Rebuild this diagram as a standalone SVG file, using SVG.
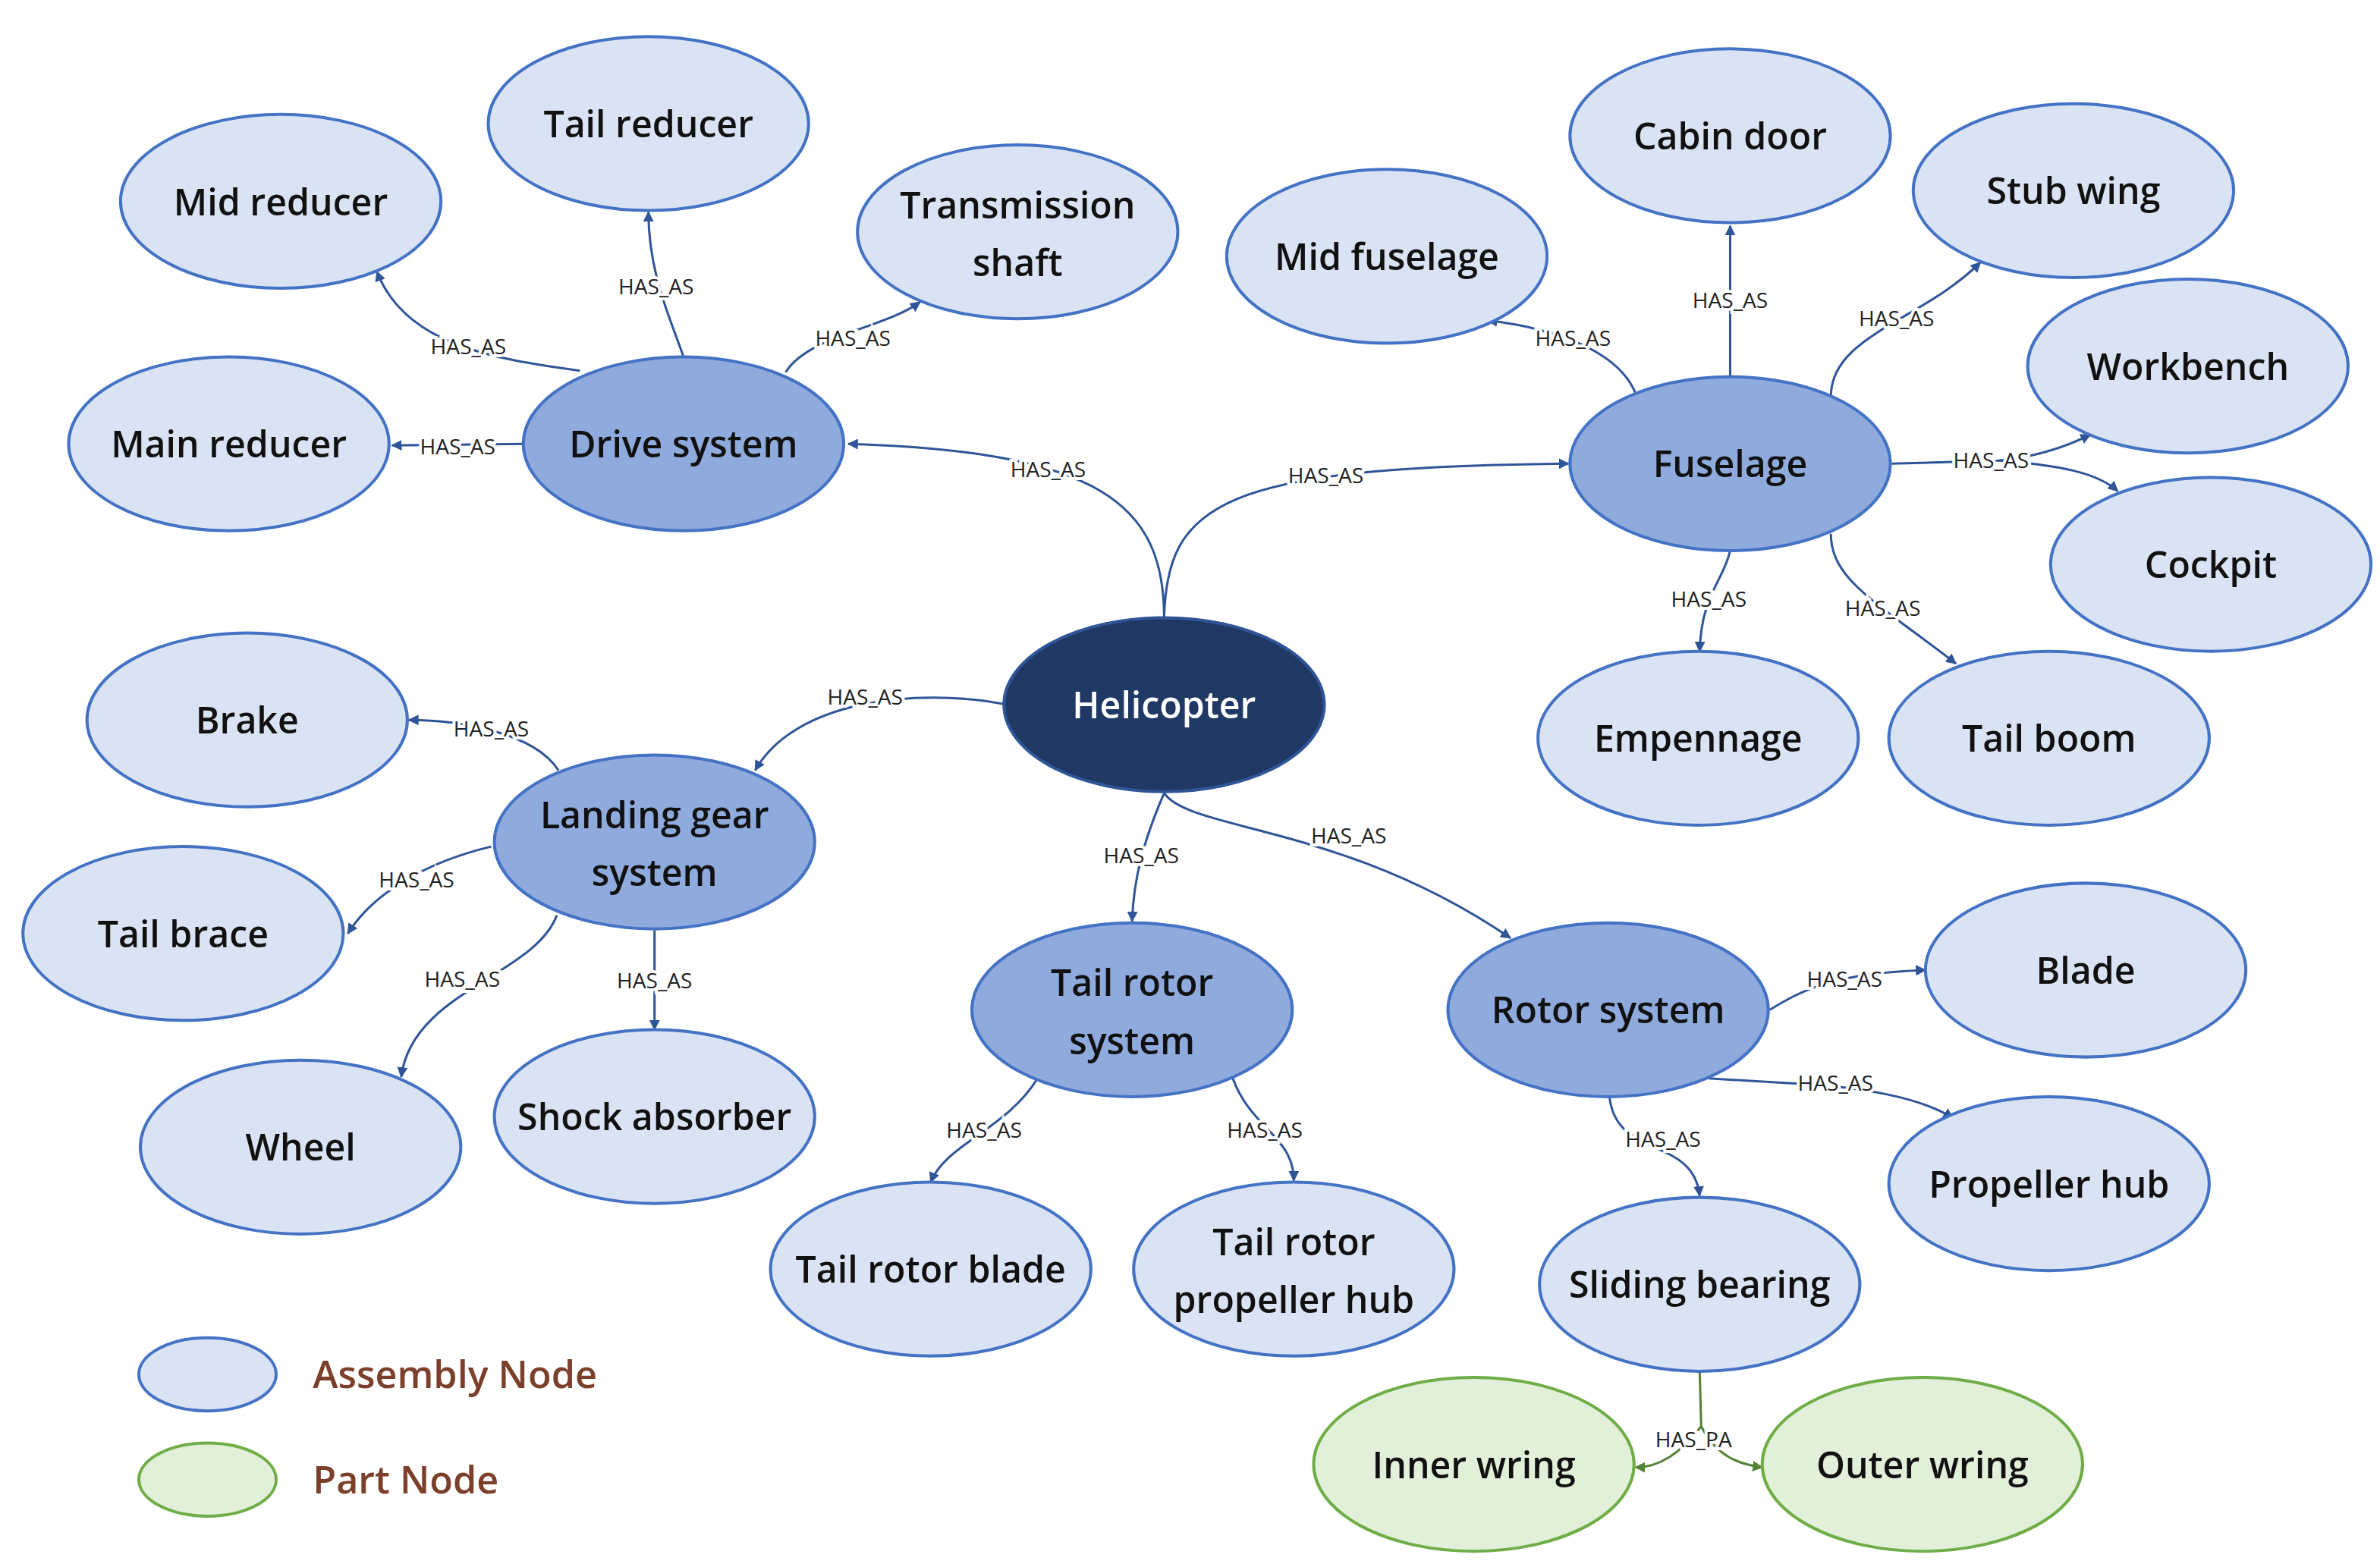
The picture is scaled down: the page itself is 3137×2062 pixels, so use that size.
<svg xmlns="http://www.w3.org/2000/svg" width="3137" height="2062" viewBox="0 0 3137 2062">
<style>
.n ellipse{fill:#DAE3F3;stroke:#4472C4;stroke-width:2}
.m ellipse{fill:#8FAADC;stroke:#4472C4;stroke-width:2}
.h ellipse{fill:#1F3864;stroke:#2F5597;stroke-width:2}
.p ellipse{fill:#E2F0D9;stroke:#70AD47;stroke-width:2}
text{font-family:"Open Sans","Noto Sans",sans-serif;text-anchor:middle}
.t{font-size:24px;font-weight:600;fill:#111}
.h text{fill:#fff}
.e path{fill:none;stroke:#2F5597;stroke-width:1.5;marker-end:url(#a)}
.e path.g{stroke:#548235;marker-end:url(#ag)}
.l{font-size:14px;fill:#222;stroke:#fff;stroke-width:4;paint-order:stroke}
.lg{font-size:25px;font-weight:600;fill:#7B3F2A;text-anchor:start}
</style>
<defs>
<marker id="a" viewBox="0 0 10 10" refX="9" refY="5" markerWidth="7" markerHeight="7" orient="auto" markerUnits="userSpaceOnUse"><path d="M0,0L10,5L0,10z" fill="#2F5597"/></marker>
<marker id="ag" viewBox="0 0 10 10" refX="9" refY="5" markerWidth="7" markerHeight="7" orient="auto" markerUnits="userSpaceOnUse"><path d="M0,0L10,5L0,10z" fill="#548235"/></marker>
</defs>
<rect width="3137" height="2062" fill="#fff"/>
<g transform="scale(2.011)">
<g id="connectors" class="e">
<path d="M763,405 C763,330 720,296 556,291"/>
<path d="M763,405 C765,330 800,306 1028,304"/>
<path d="M660,462 C600,450 520,460 495,505"/>
<path d="M763,520 C750,550 743,575 742,604"/>
<path d="M763,520 C780,545 880,540 990,615"/>
<path d="M343,291 L257,292"/>
<path d="M380,243 C320,235 265,225 247,178"/>
<path d="M448,234 C440,210 425,180 425,139"/>
<path d="M515,244 C530,220 580,215 603,198"/>
<path d="M1072,258 C1065,240 1040,218 975,210"/>
<path d="M1134,247 L1134,148"/>
<path d="M1200,260 C1200,220 1260,210 1298,172"/>
<path d="M1240,304 L1310,302 C1330,300 1350,295 1370,285"/>
<path d="M1310,302 C1350,305 1375,310 1388,322"/>
<path d="M1134,361 C1130,380 1115,390 1114,427"/>
<path d="M1200,350 C1200,380 1230,395 1282,435"/>
<path d="M366,505 C350,480 300,472 268,472"/>
<path d="M322,555 C280,565 245,585 228,612"/>
<path d="M365,600 C350,640 270,650 263,706"/>
<path d="M429,610 L429,675"/>
<path d="M680,707 C660,740 620,750 610,775"/>
<path d="M808,707 C820,740 848,745 848,774"/>
<path d="M1160,662 C1180,650 1200,638 1262,636"/>
<path d="M1120,707 L1170,710 C1220,712 1260,720 1280,733"/>
<path d="M1055,720 C1060,760 1110,745 1114,784"/>
<path class="g" d="M1114,898 L1115,935 C1100,955 1085,962 1072,962"/>
<path class="g" d="M1115,935 C1125,955 1140,960 1155,962"/>
</g>
<g id="labels">
<text class="l" x="687" y="313">HAS_AS</text>
<text class="l" x="869" y="317">HAS_AS</text>
<text class="l" x="567" y="462">HAS_AS</text>
<text class="l" x="748" y="566">HAS_AS</text>
<text class="l" x="884" y="553">HAS_AS</text>
<text class="l" x="300" y="298">HAS_AS</text>
<text class="l" x="307" y="232">HAS_AS</text>
<text class="l" x="430" y="193">HAS_AS</text>
<text class="l" x="559" y="227">HAS_AS</text>
<text class="l" x="1031" y="227">HAS_AS</text>
<text class="l" x="1134" y="202">HAS_AS</text>
<text class="l" x="1243" y="214">HAS_AS</text>
<text class="l" x="1305" y="307">HAS_AS</text>
<text class="l" x="1120" y="398">HAS_AS</text>
<text class="l" x="1234" y="404">HAS_AS</text>
<text class="l" x="322" y="483">HAS_AS</text>
<text class="l" x="273" y="582">HAS_AS</text>
<text class="l" x="303" y="647">HAS_AS</text>
<text class="l" x="429" y="648">HAS_AS</text>
<text class="l" x="645" y="746">HAS_AS</text>
<text class="l" x="829" y="746">HAS_AS</text>
<text class="l" x="1209" y="647">HAS_AS</text>
<text class="l" x="1203" y="715">HAS_AS</text>
<text class="l" x="1090" y="752">HAS_AS</text>
<text class="l" x="1110" y="949">HAS_PA</text>
</g>
<g id="helicopter" class="h"><ellipse cx="763" cy="462" rx="105" ry="57"/><text class="t" x="763" y="471">Helicopter</text></g>
<g id="drive" class="m"><ellipse cx="448" cy="291" rx="105" ry="57"/><text class="t" x="448" y="300">Drive system</text></g>
<g id="mid-reducer" class="n"><ellipse cx="184" cy="132" rx="105" ry="57"/><text class="t" x="184" y="141">Mid reducer</text></g>
<g id="tail-reducer" class="n"><ellipse cx="425" cy="81" rx="105" ry="57"/><text class="t" x="425" y="90">Tail reducer</text></g>
<g id="transmission" class="n"><ellipse cx="667" cy="152" rx="105" ry="57"/><text class="t" x="667" y="143">Transmission</text><text class="t" x="667" y="181">shaft</text></g>
<g id="main-reducer" class="n"><ellipse cx="150" cy="291" rx="105" ry="57"/><text class="t" x="150" y="300">Main reducer</text></g>
<g id="fuselage" class="m"><ellipse cx="1134" cy="304" rx="105" ry="57"/><text class="t" x="1134" y="313">Fuselage</text></g>
<g id="mid-fuselage" class="n"><ellipse cx="909" cy="168" rx="105" ry="57"/><text class="t" x="909" y="177">Mid fuselage</text></g>
<g id="cabin-door" class="n"><ellipse cx="1134" cy="89" rx="105" ry="57"/><text class="t" x="1134" y="98">Cabin door</text></g>
<g id="stub-wing" class="n"><ellipse cx="1359" cy="125" rx="105" ry="57"/><text class="t" x="1359" y="134">Stub wing</text></g>
<g id="workbench" class="n"><ellipse cx="1434" cy="240" rx="105" ry="57"/><text class="t" x="1434" y="249">Workbench</text></g>
<g id="cockpit" class="n"><ellipse cx="1449" cy="370" rx="105" ry="57"/><text class="t" x="1449" y="379">Cockpit</text></g>
<g id="empennage" class="n"><ellipse cx="1113" cy="484" rx="105" ry="57"/><text class="t" x="1113" y="493">Empennage</text></g>
<g id="tail-boom" class="n"><ellipse cx="1343" cy="484" rx="105" ry="57"/><text class="t" x="1343" y="493">Tail boom</text></g>
<g id="brake" class="n"><ellipse cx="162" cy="472" rx="105" ry="57"/><text class="t" x="162" y="481">Brake</text></g>
<g id="landing-gear" class="m"><ellipse cx="429" cy="552" rx="105" ry="57"/><text class="t" x="429" y="543">Landing gear</text><text class="t" x="429" y="581">system</text></g>
<g id="tail-brace" class="n"><ellipse cx="120" cy="612" rx="105" ry="57"/><text class="t" x="120" y="621">Tail brace</text></g>
<g id="wheel" class="n"><ellipse cx="197" cy="752" rx="105" ry="57"/><text class="t" x="197" y="761">Wheel</text></g>
<g id="shock" class="n"><ellipse cx="429" cy="732" rx="105" ry="57"/><text class="t" x="429" y="741">Shock absorber</text></g>
<g id="tail-rotor" class="m"><ellipse cx="742" cy="662" rx="105" ry="57"/><text class="t" x="742" y="653">Tail rotor</text><text class="t" x="742" y="691">system</text></g>
<g id="tail-rotor-blade" class="n"><ellipse cx="610" cy="832" rx="105" ry="57"/><text class="t" x="610" y="841">Tail rotor blade</text></g>
<g id="tail-rotor-hub" class="n"><ellipse cx="848" cy="832" rx="105" ry="57"/><text class="t" x="848" y="823">Tail rotor</text><text class="t" x="848" y="861">propeller hub</text></g>
<g id="rotor" class="m"><ellipse cx="1054" cy="662" rx="105" ry="57"/><text class="t" x="1054" y="671">Rotor system</text></g>
<g id="blade" class="n"><ellipse cx="1367" cy="636" rx="105" ry="57"/><text class="t" x="1367" y="645">Blade</text></g>
<g id="propeller-hub" class="n"><ellipse cx="1343" cy="776" rx="105" ry="57"/><text class="t" x="1343" y="785">Propeller hub</text></g>
<g id="sliding-bearing" class="n"><ellipse cx="1114" cy="842" rx="105" ry="57"/><text class="t" x="1114" y="851">Sliding bearing</text></g>
<g id="inner-wring" class="p"><ellipse cx="966" cy="960" rx="105" ry="57"/><text class="t" x="966" y="969">Inner wring</text></g>
<g id="outer-wring" class="p"><ellipse cx="1260" cy="960" rx="105" ry="57"/><text class="t" x="1260" y="969">Outer wring</text></g>
<g id="legend">
<g class="n"><ellipse cx="136" cy="901" rx="45" ry="24"/></g>
<text class="lg" x="205" y="910">Assembly Node</text>
<g class="p"><ellipse cx="136" cy="970" rx="45" ry="24"/></g>
<text class="lg" x="205" y="979">Part Node</text>
</g>
</g>
</svg>
